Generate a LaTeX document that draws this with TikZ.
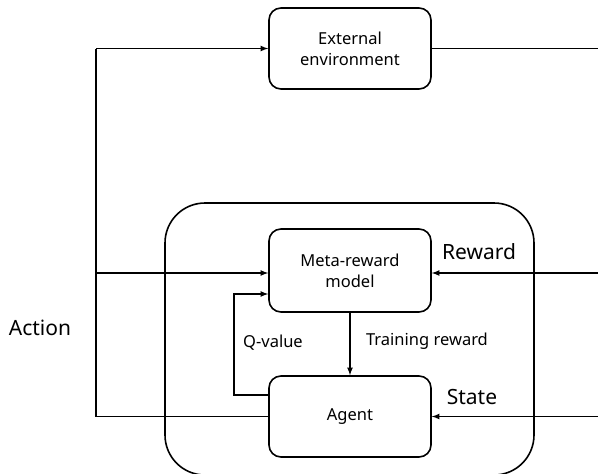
\documentclass[tikz,border=0pt]{standalone}
\usepackage{fontspec}
\setmainfont{Noto Sans}
\usetikzlibrary{shapes.geometric,arrows}
\tikzstyle{process}=[rectangle,rounded corners=12pt,minimum width=162pt,minimum height=81pt,text centered,align=center,draw=black,line width=1.6pt,font=\fontsize{16.5}{21}\selectfont]
\tikzstyle{frame}=[rectangle,rounded corners=40pt,minimum width=369pt,minimum height=272pt,draw=black,line width=1.6pt]
\tikzstyle{arrow}=[line width=1.6pt,->,>=latex]
\tikzstyle{line}=[line width=1.6pt]
\tikzstyle{tag}=[font=\fontsize{21}{25}\selectfont]
\tikzstyle{note}=[font=\fontsize{16.5}{20}\selectfont]

\begin{document}
\begin{tikzpicture}[x=1pt,y=-1pt]
            \useasboundingbox (0,0) rectangle (598,474);
            \node (box)[frame] at (349.5,339){};
            \node (env)[process] at (350,48.5){External\\environment};
            \node (meta)[process,minimum height=83pt] at (350,270.5){Meta-reward\\model};
            \node (agent)[process] at (350,416.5){Agent};
            \coordinate (actop) at (96,48.5);
            \coordinate (acmid) at (96,273);
            \coordinate (acbot) at (96,416.5);
            \coordinate (envout) at (598,48.5);
            \coordinate (rwin) at (598,273);
            \coordinate (stin) at (598,416.5);
            \draw [line] (agent.west) -- (acbot) -- (actop);
            \draw [arrow] (actop) -- (env.west);
            \draw [arrow] (acmid) -- (meta.west |- acmid);
            \draw [line] (env.east) -- (envout);
            \draw [arrow] (rwin) -- (meta.east |- rwin);
            \draw [arrow] (stin) -- (agent.east);
            \draw [arrow] (meta) -- (agent);
            \draw [arrow] ([yshift=21.5pt]agent.west) -- ++(-34,0) |- ([yshift=-23.5pt]meta.west);
            \node (action)[tag] at (40,328){Action};
            \node (reward)[tag] at (479,252){Reward};
            \node (state)[tag] at (472,397){State};
            \node (qvalue)[note] at (273,343){Q-value};
            \node (train)[note] at (427,341){Training reward};
        \end{tikzpicture}
\end{document}
